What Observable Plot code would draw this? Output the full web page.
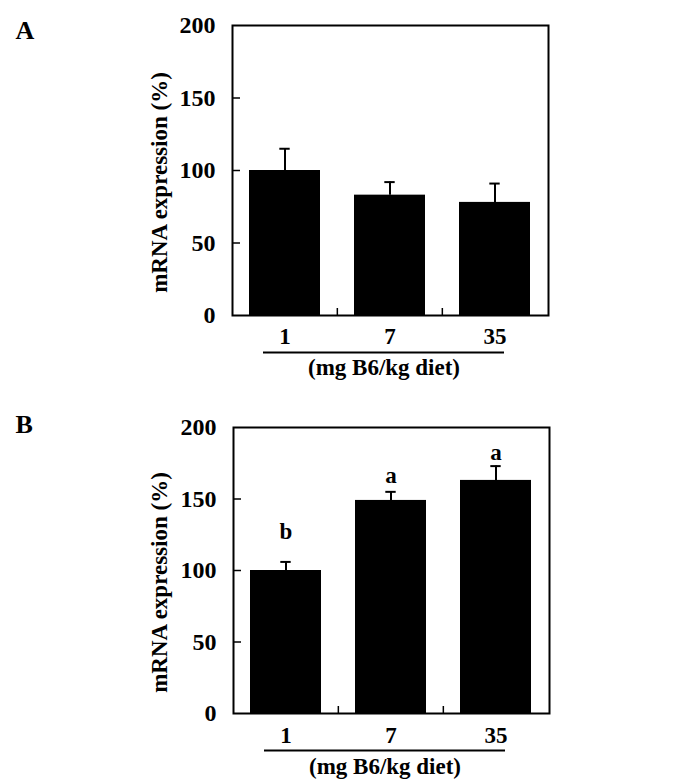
<!DOCTYPE html>
<html>
<head>
<meta charset="utf-8">
<script src="https://cdn.jsdelivr.net/npm/d3@7"></script>
<script src="https://cdn.jsdelivr.net/npm/@observablehq/plot@0.6"></script>
<style>
  html, body { margin: 0; padding: 0; background: #fff; }
  #fig { position: relative; width: 688px; height: 781px; overflow: hidden; }
  #fig > div { position: absolute; left: 0; }
</style>
</head>
<body>
<div id="fig"><div id="pa" style="top:0px"></div><div id="pb" style="top:400px"></div></div>
<script>
// ---- data ----
const categories = ["1", "7", "35"];
const meanA = [100, 83, 78];
const errA = [15, 9, 13];
const meanB = [100, 149, 163];
const errB = [6, 6, 10];
const lettersB = ["b", "a", "a"];
const letterYB = [122, 161, 177];
const yTicks = [0, 50, 100, 150, 200];
const yInnerTicks = [50, 100, 150];
const yTitle = "mRNA expression (%)";
const xTitle = "(mg B6/kg diet)";

const FONT = "'Liberation Serif', 'Times New Roman', Times, serif";

function panel(o) {
  const W = 688;
  const fw = W - o.ml - o.mr;
  const fh = o.height - o.mt - o.mb;
  const pad = 0.32;
  const step = fw / categories.length;
  const bw = step * (1 - pad);
  const capW = 11;
  const rows = categories.map((c, i) => ({
    cat: c, v: o.mean[i], e: o.err[i],
    letter: o.letters ? o.letters[i] : null,
    ly: o.letterY ? o.letterY[i] : null
  }));
  const marks = [
    Plot.barY(rows, {x: "cat", y: "v", fill: "black"}),
    Plot.ruleX(rows, {x: "cat", y1: "v", y2: d => d.v + d.e, stroke: "black", strokeWidth: 2}),
    Plot.tickY(rows, {x: "cat", y: d => d.v + d.e, stroke: "black", strokeWidth: 2,
      insetLeft: (bw - capW) / 2, insetRight: (bw - capW) / 2}),
    Plot.tickY(yInnerTicks, {y: d => d, stroke: "black", strokeWidth: 1.5, insetRight: fw - 8}),
    Plot.ruleX(categories.slice(1), {x: d => d, dx: -step / 2, insetTop: fh - 7, stroke: "black", strokeWidth: 1.5}),
    Plot.frame({stroke: "black", strokeWidth: 2}),
    Plot.axisY({ticks: yTicks, tickSize: 0, tickPadding: 17, fontSize: 24, fontWeight: "bold", label: null}),
    Plot.axisX({tickSize: 0, tickPadding: o.xpad, fontSize: 23, fontWeight: "bold", label: null}),
    // underline below category labels
    Plot.ruleY([0], {dy: o.lineDy, insetLeft: 31, insetRight: fw - 272, stroke: "black", strokeWidth: 2}),
    // x subtitle
    Plot.text([xTitle], {text: d => d, frameAnchor: "bottom", lineAnchor: "bottom", textAnchor: "middle",
      dx: (31 + 272) / 2 - fw / 2, dy: o.subDy, fontSize: 23, fontWeight: "bold"}),
    // y title
    Plot.text([yTitle], {text: d => d, frameAnchor: "left", rotate: -90, lineAnchor: "bottom", textAnchor: "middle",
      dx: 166 - o.ml, dy: 12, fontSize: 23, fontWeight: "bold"}),
    // panel label
    Plot.text([o.label], {text: d => d, frameAnchor: "top-left", textAnchor: "start", lineAnchor: "bottom",
      dx: 15 - o.ml, dy: o.labelY - o.mt, fontSize: 26, fontWeight: "bold"})
  ];
  if (o.letters) {
    marks.push(Plot.text(rows, {x: "cat", y: "ly", text: "letter", lineAnchor: "bottom",
      fontSize: 23, fontWeight: "bold"}));
  }
  return Plot.plot({
    width: W,
    height: o.height,
    marginLeft: o.ml, marginRight: o.mr, marginTop: o.mt, marginBottom: o.mb,
    style: {fontFamily: FONT, fontSize: "22px", color: "black", background: "white", overflow: "visible"},
    x: {domain: categories, paddingInner: pad, paddingOuter: pad / 2, axis: null},
    y: {domain: [0, 200], axis: null},
    marks
  });
}

document.getElementById("pa").appendChild(panel({
  label: "A", mean: meanA, err: errA, height: 390,
  mt: 25, mb: 75, ml: 232, mr: 140, xpad: 12, lineDy: 37, subDy: 59, labelY: 38
}));
document.getElementById("pb").appendChild(panel({
  label: "B", mean: meanB, err: errB, letters: lettersB, letterY: letterYB, height: 381,
  mt: 27, mb: 68, ml: 233, mr: 139, xpad: 13, lineDy: 37, subDy: 60, labelY: 32
}));
</script>
</body>
</html>
